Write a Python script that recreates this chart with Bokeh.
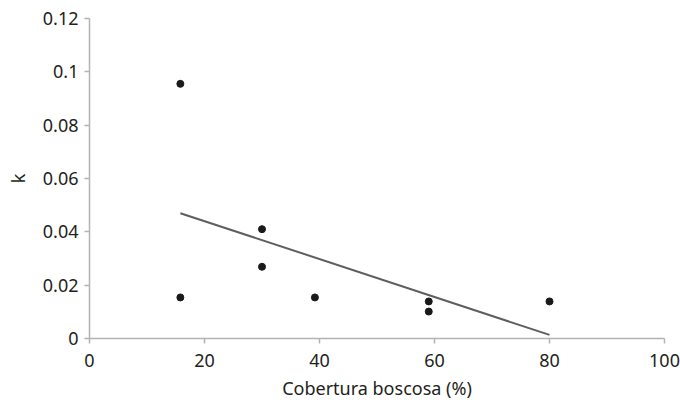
from bokeh.plotting import figure
from bokeh.models import Range1d, FixedTicker
from bokeh.embed import file_html
from bokeh.resources import INLINE
import numpy as np

# Data
cobertura = [15.8, 15.8, 30.0, 30.0, 39.2, 59.0, 59.0, 80.0]
k_values = [0.0955, 0.0154, 0.0410, 0.0269, 0.0154, 0.0139, 0.0101, 0.0139]
x_ticks = [0, 20, 40, 60, 80, 100]
y_ticks = [0, 0.02, 0.04, 0.06, 0.08, 0.1, 0.12]
y_tick_labels = {0: "0", 0.02: "0.02", 0.04: "0.04", 0.06: "0.06", 0.08: "0.08", 0.1: "0.1", 0.12: "0.12"}

# Linear trend line fitted to the data
slope, intercept = np.polyfit(cobertura, k_values, 1)
trend_x = [min(cobertura), max(cobertura)]
trend_y = [slope * xv + intercept for xv in trend_x]

FONT = "Noto Sans"
TXT = "#231f20"
AX = "#b3b3b3"

p = figure(width=680, height=403, output_backend="svg", toolbar_location=None,
           x_range=Range1d(0, 100), y_range=Range1d(0, 0.12),
           min_border_left=89, min_border_right=16, min_border_top=18, min_border_bottom=65)
p.outline_line_color = None
p.grid.visible = False
p.background_fill_color = "white"
p.border_fill_color = "white"

p.line(trend_x, trend_y, line_color="#5e5e5e", line_width=2)
p.scatter(cobertura, k_values, size=7, fill_color="#1a1a1a", line_color="#1a1a1a")

for ax in (p.xaxis[0], p.yaxis[0]):
    ax.axis_line_color = AX
    ax.axis_line_width = 1.5
    ax.major_tick_line_color = AX
    ax.major_tick_line_width = 1.5
    ax.major_tick_in = 0
    ax.major_tick_out = 5
    ax.minor_tick_line_color = None
    ax.major_label_text_font = FONT
    ax.major_label_text_font_size = "18px"
    ax.major_label_text_color = TXT
    ax.axis_label_text_font = FONT
    ax.axis_label_text_font_size = "18px"
    ax.axis_label_text_font_style = "normal"
    ax.axis_label_text_color = TXT

p.xaxis.ticker = FixedTicker(ticks=x_ticks)
p.yaxis.ticker = FixedTicker(ticks=y_ticks)
p.yaxis.major_label_overrides = y_tick_labels
p.xaxis.axis_label = "Cobertura boscosa (%)"
p.yaxis.axis_label = "k"
p.xaxis.major_label_standoff = 10
p.yaxis.major_label_standoff = 6
p.xaxis.axis_label_standoff = 6
p.yaxis.axis_label_standoff = 10

open("out.html", "w").write(file_html(p, INLINE))
